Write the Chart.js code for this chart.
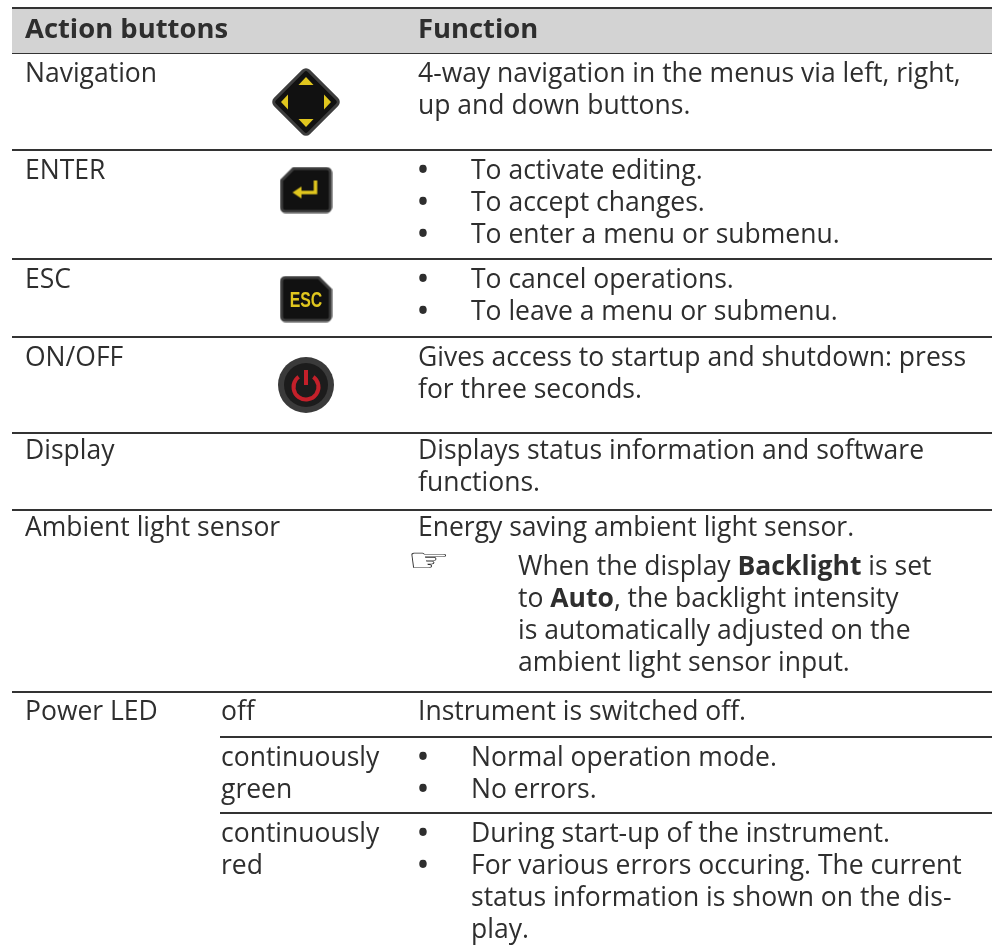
<!DOCTYPE html>
<html>
<head>
<meta charset="utf-8">
<style>
  html, body { margin: 0; background: #fff; }
  canvas { display: block; }
</style>
<script src="https://cdn.jsdelivr.net/npm/chart.js@4"></script>
</head>
<body>
<canvas id="table" width="992" height="951"></canvas>
<script>
// table content
const headers = ["Action buttons", "Function"];
const rowLabels = ["Navigation", "ENTER", "ESC", "ON/OFF", "Display", "Ambient light sensor", "Power LED"];
const ledStates = [["off"], ["continuously", "green"], ["continuously", "red"]];
const rowFunctions = [
  ["4-way navigation in the menus via left, right,", "up and down buttons."],
  ["To activate editing.", "To accept changes.", "To enter a menu or submenu."],
  ["To cancel operations.", "To leave a menu or submenu."],
  ["Gives access to startup and shutdown: press", "for three seconds."],
  ["Displays status information and software", "functions."],
  ["Energy saving ambient light sensor."]
];
const ledFunctions = [
  ["Instrument is switched off."],
  ["Normal operation mode.", "No errors."],
  ["During start-up of the instrument.", "For various errors occuring. The current", "status information is shown on the dis-", "play."]
];
// **word** is bold
const noteLines = ["When the display **Backlight** is set", "to **Auto**, the backlight intensity", "is automatically adjusted on the", "ambient light sensor input."];
// how many lines of each cell carry a bullet
const rowBullets = [0, 3, 2, 0, 0, 0];
const ledBullets = [0, 2, 2];

// rule positions, on the page scale
const fullRules = [53, 150, 259, 337, 433, 510, 692];
const ledRules = [737, 813];
const headerBand = [8, 53];
const iconX = [306, 306, 306, 306];
const iconY = [102, 190, 299, 385];

// layout
const ink = "#2e2e2e";
const bodyFont = '400 26.5px "Open Sans"';
const boldFont = '700 26.5px "Open Sans"';
const headerFont = '700 27.4px "Open Sans"';
const lineStep = 32;
const colLabel = 25, colState = 221, colFunc = 418, colBullet = 471, colNote = 518;
const ruleStart = 12, ruleEnd = 992;
const headerBaseline = 38;
const rowBaselines = [82, 179, 288, 366, 459, 536];
const ledBaselines = [720, 766, 842];
const noteBaseline = 575;

function iconCanvas(w, h, paint) {
  const c = document.createElement("canvas");
  c.width = w;
  c.height = h;
  paint(c.getContext("2d"));
  return c;
}

function tri(g, pts) {
  g.beginPath();
  g.moveTo(pts[0], pts[1]);
  g.lineTo(pts[2], pts[3]);
  g.lineTo(pts[4], pts[5]);
  g.closePath();
  g.fill();
}

const yellow = "#e0c61e";

const navIcon = iconCanvas(80, 80, function (g) {
  g.save();
  g.translate(40, 40);
  g.rotate(Math.PI / 4);
  g.lineJoin = "round";
  g.fillStyle = "#111";
  g.strokeStyle = "#3e3e3e";
  g.lineWidth = 3;
  g.beginPath();
  g.roundRect(-24, -24, 48, 48, 4);
  g.fill();
  g.stroke();
  g.restore();
  g.fillStyle = yellow;
  tri(g, [40, 15, 32.5, 23, 47.5, 23]);
  tri(g, [40, 65, 32.5, 57, 47.5, 57]);
  tri(g, [15, 40, 22, 32.5, 22, 47.5]);
  tri(g, [65, 40, 58, 32.5, 58, 47.5]);
});

function keyBody(g, cutLeft) {
  const l = 2, r = 51, t = 2, b = 45, cut = 12, rad = 4;
  g.fillStyle = "#111";
  g.strokeStyle = "#3e3e3e";
  g.lineWidth = 3;
  g.lineJoin = "round";
  g.beginPath();
  if (cutLeft) {
    g.moveTo(l + cut, t);
    g.arcTo(r, t, r, b, rad);
    g.arcTo(r, b, l, b, rad);
    g.arcTo(l, b, l, t, rad);
    g.lineTo(l, t + cut);
  } else {
    g.moveTo(l + rad, t);
    g.lineTo(r - cut, t);
    g.lineTo(r, t + cut);
    g.arcTo(r, b, l, b, rad);
    g.arcTo(l, b, l, t, rad);
    g.arcTo(l, t, r, t, rad);
  }
  g.closePath();
  g.fill();
  g.stroke();
}

const enterIcon = iconCanvas(53, 47, function (g) {
  keyBody(g, true);
  g.strokeStyle = yellow;
  g.lineWidth = 3.5;
  g.lineJoin = "miter";
  g.beginPath();
  g.moveTo(36, 14);
  g.lineTo(36, 26);
  g.lineTo(20, 26);
  g.stroke();
  g.fillStyle = yellow;
  tri(g, [13, 26, 22, 20, 22, 32]);
});

const escIcon = iconCanvas(53, 47, function (g) {
  keyBody(g, false);
});

const powerIcon = iconCanvas(58, 58, function (g) {
  g.fillStyle = "#3a3a3a";
  g.beginPath();
  g.arc(29, 29, 28, 0, Math.PI * 2);
  g.fill();
  g.fillStyle = "#1c1c1c";
  g.beginPath();
  g.arc(29, 29, 22, 0, Math.PI * 2);
  g.fill();
  g.strokeStyle = "#c4202a";
  g.lineWidth = 4;
  g.beginPath();
  g.arc(29, 31, 12.5, -Math.PI * 0.3, Math.PI * 1.3);
  g.stroke();
  g.beginPath();
  g.moveTo(29, 14);
  g.lineTo(29, 29);
  g.stroke();
});

function ruleDataset(y, from) {
  return {
    data: [{ x: from, y: y }, { x: ruleEnd, y: y }],
    borderColor: "#333",
    borderWidth: 2,
    pointRadius: 0,
    fill: false
  };
}

const datasets = [];
// grey header band
datasets.push({
  data: [{ x: ruleStart, y: headerBand[0] }, { x: ruleEnd, y: headerBand[0] }],
  borderColor: "#333",
  borderWidth: 2,
  backgroundColor: "#d3d3d3",
  pointRadius: 0,
  fill: { value: headerBand[1] }
});
fullRules.forEach(function (y) { datasets.push(ruleDataset(y, ruleStart)); });
ledRules.forEach(function (y) { datasets.push(ruleDataset(y, colState - 1)); });
datasets.push({
  data: iconX.map(function (x, i) { return { x: x, y: iconY[i] }; }),
  showLine: false,
  pointStyle: [navIcon, enterIcon, escIcon, powerIcon],
  pointRadius: 10,
  pointHoverRadius: 10
});

// writes a line, switching to bold for **word**
function writeLine(ctx, text, x, y) {
  text.split("**").forEach(function (part, i) {
    ctx.font = i % 2 ? boldFont : bodyFont;
    ctx.fillText(part, x, y);
    x += ctx.measureText(part).width;
  });
}

const tableText = {
  id: "tableText",
  afterDatasetsDraw(chart) {
    const ctx = chart.ctx;
    const sx = chart.scales.x, sy = chart.scales.y;
    function put(text, col, base) {
      writeLine(ctx, text, sx.getPixelForValue(col), sy.getPixelForValue(base));
    }
    function putCell(lines, base, bullets) {
      lines.forEach(function (line, i) {
        const y = base + i * lineStep;
        if (i < bullets) {
          ctx.font = boldFont;
          ctx.fillText("•", sx.getPixelForValue(colFunc), sy.getPixelForValue(y));
        }
        put(line, bullets ? colBullet : colFunc, y);
      });
    }
    ctx.save();
    ctx.fillStyle = ink;
    ctx.textBaseline = "alphabetic";

    ctx.font = headerFont;
    ctx.fillText(headers[0], sx.getPixelForValue(colLabel), sy.getPixelForValue(headerBaseline));
    ctx.fillText(headers[1], sx.getPixelForValue(colFunc), sy.getPixelForValue(headerBaseline));

    rowLabels.forEach(function (label, i) {
      const base = i < rowBaselines.length ? rowBaselines[i] : ledBaselines[0];
      put(label, colLabel, base);
    });
    rowFunctions.forEach(function (lines, i) {
      putCell(lines, rowBaselines[i], rowBullets[i]);
    });
    ledStates.forEach(function (lines, i) {
      lines.forEach(function (line, j) { put(line, colState, ledBaselines[i] + j * lineStep); });
    });
    ledFunctions.forEach(function (lines, i) {
      putCell(lines, ledBaselines[i], ledBullets[i]);
    });
    noteLines.forEach(function (line, i) {
      put(line, colNote, noteBaseline + i * lineStep);
    });

    // pointing hand, stretched wider than the font draws it
    ctx.save();
    ctx.font = '38px "DejaVu Sans"';
    ctx.translate(sx.getPixelForValue(colFunc - 11), sy.getPixelForValue(noteBaseline - 4));
    ctx.scale(1.25, 0.85);
    ctx.fillText("☞", 0, 0);
    ctx.restore();

    // label on the ESC key, squeezed to look condensed
    ctx.font = 'bold 22px "Liberation Sans"';
    ctx.fillStyle = yellow;
    ctx.textAlign = "center";
    ctx.translate(sx.getPixelForValue(iconX[2]), sy.getPixelForValue(iconY[2] + 8));
    ctx.scale(0.72, 1);
    ctx.fillText("ESC", 0, 0);
    ctx.restore();
  }
};

new Chart(document.getElementById("table"), {
  type: "line",
  data: { datasets: datasets },
  plugins: [tableText],
  options: {
    responsive: false,
    animation: false,
    layout: { padding: 0, autoPadding: false },
    plugins: {
      legend: { display: false },
      tooltip: { enabled: false }
    },
    scales: {
      x: { type: "linear", display: false, min: 0, max: 992 },
      y: { type: "linear", display: false, min: 0, max: 951, reverse: true }
    }
  }
});
</script>
</body>
</html>
